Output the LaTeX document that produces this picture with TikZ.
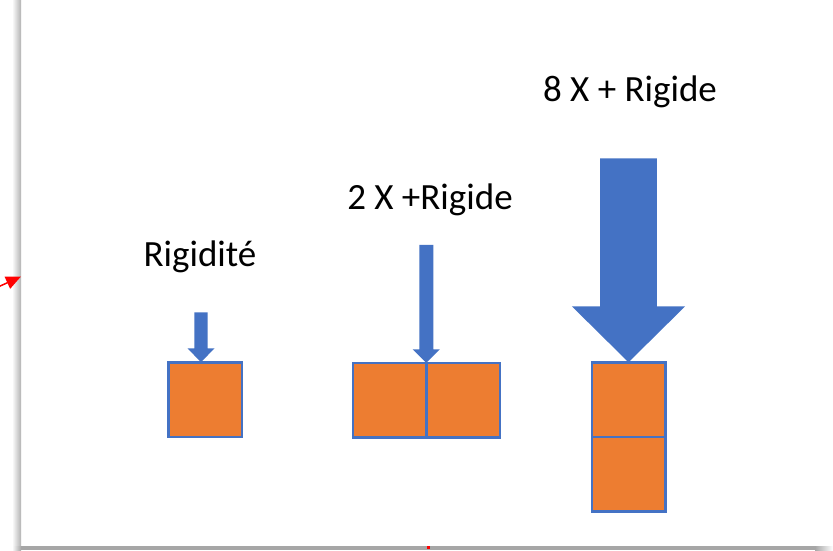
\documentclass[tikz,border=0pt]{standalone}
\usepackage{fontspec}
\setmainfont{Carlito}
\usetikzlibrary{arrows.meta}
\definecolor{blueC}{HTML}{4472C4}
\definecolor{orangeC}{HTML}{ED7D31}
\tikzset{
  brick/.style={draw=blueC, line width=2.5pt, fill=orangeC, minimum width=73.5pt,
    minimum height=74.5pt, inner sep=0pt, outer sep=0pt},
  lbl/.style={font=\fontsize{37}{44}\selectfont, text=black, anchor=base, inner sep=0pt},
  % block arrow pointing down, tip at the pic origin:
  % #1 shaft half width, #2 head half width, #3 head length, #4 total length
  pics/pushdown/.style n args={4}{code={
    \fill[blueC] (-#1,-#4) -- (#1,-#4) -- (#1,-#3) -- (#2,-#3) -- (0,0)
      -- (-#2,-#3) -- (-#1,-#3) -- cycle;
  }}
}
\begin{document}
\begin{tikzpicture}[x=1pt,y=-1pt]
\useasboundingbox (0,0) rectangle (833,550);
\fill[white] (0,0) rectangle (833,550);
% page shadows
\shade[left color=white, right color=black!30] (12,0) rectangle (21,546);
\fill[black!35] (21,546) rectangle (815,550);
\shade[left color=black!35, right color=white] (815,546) rectangle (833,550);
\shade[left color=white, right color=black!35] (12,546) rectangle (21,550);

% stiffness samples
\node[brick] (A) at (205,399.5) {};
\node[brick] (B1) at (389.5,400) {};
\node[brick, anchor=west] (B2) at (B1.east) {};
\node[brick] (C1) at (628.5,399.5) {};
\node[brick, anchor=north] (C2) at (C1.south) {};

% loads
\pic at ([xshift=-4pt]A.north) {pushdown={6.7}{13.5}{14}{50}};
\pic at (B1.north east) {pushdown={7}{13.7}{13.5}{118}};
\pic at (C1.north) {pushdown={28.3}{56.7}{56}{204}};

% labels
\node[lbl] (tA) at (200,266.7) {Rigidité};
\node[lbl] (tB) at (430,209) {2 X +Rigide};
\node[lbl] (tC) at (630,101.7) {8 X + Rigide};

% red pointer at the page edge
\coordinate (redtail) at (-2,287);
\coordinate (pageedge) at (21,276.5);
\draw[red, line width=1.5pt, -{Triangle[length=15pt,width=13pt]}] (redtail) -- (pageedge);
\fill[red] (427,546) rectangle (430,549);
\end{tikzpicture}
\end{document}
